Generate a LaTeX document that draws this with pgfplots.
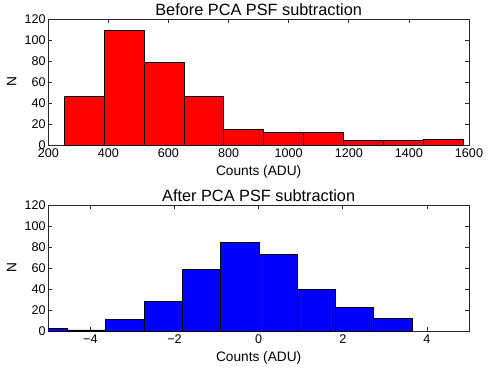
\documentclass[border=0pt]{standalone}
\usepackage{fontspec}
\setmainfont{Liberation Sans}
\usepackage{pgfplots}
\pgfplotsset{compat=1.18}
\pgfplotsset{
  histaxis/.style={
    scale only axis,
    width=420.7pt,
    height=126pt,
    anchor=south west,
    ymin=0, ymax=120,
    ytick={0,20,40,60,80,100,120},
    axis line style={line width=0.9pt, draw=black!85},
    tick style={line width=0.7pt, draw=black!85},
    major tick length=4pt,
    minor tick num=0,
    /pgf/number format/assume math mode=true,
    /pgf/number format/1000 sep={},
    tick label style={font=\fontsize{12.6}{14}\selectfont},
    xticklabel style={anchor=north, inner sep=0pt, yshift=-4pt},
    yticklabel style={anchor=east, inner sep=0pt, xshift=-2.5pt},
    xlabel={Counts (ADU)},
    ylabel={N},
    label style={font=\fontsize{13.7}{15}\selectfont},
    xlabel style={at={(axis description cs:0.5,0)}, anchor=north, inner sep=0pt, yshift=-20pt},
    ylabel style={at={(axis description cs:0,0.5)}, anchor=center, inner sep=0pt, yshift=36.6pt},
    every axis title/.style={at={(axis description cs:0.5,1)}, anchor=base, inner sep=0pt, yshift=4pt, font=\fontsize{16.3}{18}\selectfont},
  }
}
\begin{document}
\begin{tikzpicture}
  \useasboundingbox (0pt,0pt) rectangle (491pt,368pt);

  \begin{axis}[
    histaxis,
    at={(48.3pt,223pt)},
    xmin=200, xmax=1600,
    xtick={200,400,600,800,1000,1200,1400,1600},
    title={Before PCA PSF subtraction},
  ]
    \addplot[ybar interval, fill=red, draw=black, line width=0.9pt] coordinates {
      (254,46) (386.6,109) (519.2,79) (651.8,46) (784.4,15)
      (917,12) (1049.6,12) (1182.2,4) (1314.8,4) (1447.4,5) (1580,5)
    };
  \end{axis}

  \begin{axis}[
    histaxis,
    at={(48.3pt,37pt)},
    xmin=-5, xmax=5,
    xtick={-4,-2,0,2,4},
    xticklabels={−4,−2,0,2,4},
    title={After PCA PSF subtraction},
  ]
    \addplot[ybar interval, fill=blue, draw=black, line width=0.9pt] coordinates {
      (-5.45,2) (-4.54,1) (-3.63,11) (-2.72,28) (-1.81,59) (-0.90,84)
      (0.01,73) (0.92,40) (1.83,22) (2.74,12) (3.65,12)
    };
  \end{axis}
\end{tikzpicture}
\end{document}
